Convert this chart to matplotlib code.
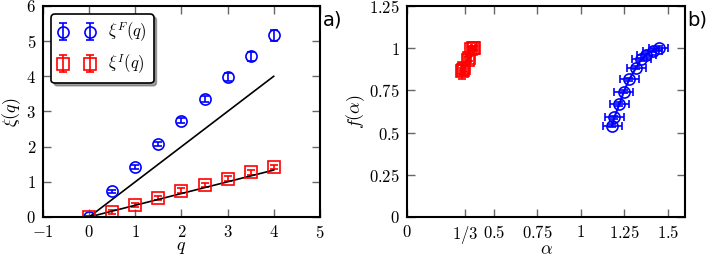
import numpy as np
from matplotlib import pyplot as plt

plt.rcParams['font.family'] = 'serif'
plt.rcParams['font.serif'] = ['cmr10', 'DejaVu Serif']
plt.rcParams['mathtext.fontset'] = 'cm'
plt.rcParams['axes.formatter.use_mathtext'] = True

# panel a) data
q = [0, 0.5, 1, 1.5, 2, 2.5, 3, 3.5, 4]
xiF = [0.0, 0.73, 1.42, 2.08, 2.73, 3.35, 3.97, 4.57, 5.16]
xiF_err = [0.02, 0.04, 0.05, 0.05, 0.07, 0.09, 0.11, 0.13, 0.15]
xiI = [0.0, 0.15, 0.35, 0.55, 0.74, 0.91, 1.09, 1.27, 1.42]
xiI_err = [0.02, 0.06, 0.06, 0.06, 0.07, 0.07, 0.07, 0.07, 0.07]
line_q = [0, 4]

# panel b) data
alphaF = [1.447, 1.414, 1.376, 1.347, 1.318, 1.279, 1.247, 1.222, 1.193, 1.180]
fF = [1.0, 0.985, 0.96, 0.934, 0.884, 0.816, 0.742, 0.669, 0.591, 0.54]
alphaF_err = 0.055
fF_err = 0.01
alphaI = [0.385, 0.378, 0.37, 0.355, 0.348, 0.33, 0.322, 0.318]
fI = [1.0, 1.0, 0.995, 0.94, 0.93, 0.88, 0.87, 0.865]
alphaI_err = 0.012
fI_err = [0.01, 0.01, 0.01, 0.015, 0.015, 0.02, 0.03, 0.045]

alpha_ticks = [0, 1/3, 0.5, 0.75, 1, 1.25, 1.5]
alpha_labels = ['$0$', '$1/3$', '$0.5$', '$0.75$', '$1$', '$1.25$', '$1.5$']
f_ticks = [0, 0.25, 0.5, 0.75, 1, 1.25]
f_labels = ['$0$', '$0.25$', '$0.5$', '$0.75$', '$1$', '$1.25$']

fig = plt.figure(figsize=(7.06, 2.58), dpi=100)
ax1 = fig.add_axes([0.061, 0.159, 0.392, 0.818])
ax2 = fig.add_axes([0.5765, 0.159, 0.394, 0.818])

for ax in (ax1, ax2):
    ax.tick_params(direction='in', top=True, right=True, length=6, width=1,
                   color='0.4', labelsize=12, pad=5)
    for s in ax.spines.values():
        s.set_linewidth(1.5)

ax1.errorbar(q, xiF, yerr=xiF_err, fmt='o', mfc='none', mec='b', color='b',
             ms=8, mew=1.2, capsize=3, elinewidth=1.2, label=r'$\xi^F(q)$')
ax1.errorbar(q, xiI, yerr=xiI_err, fmt='s', mfc='none', mec='r', color='r',
             ms=8, mew=1.2, capsize=3, elinewidth=1.2, label=r'$\xi^I(q)$')
ax1.plot(line_q, [v for v in line_q], 'k-', lw=1.2)
ax1.plot(line_q, [v / 3 for v in line_q], 'k-', lw=1.2)
ax1.set_xlim(-1, 5)
ax1.set_ylim(0, 6)
ax1.set_xticks(range(-1, 6))
ax1.set_yticks(range(0, 7))
ax1.set_xlabel('$q$', fontsize=13, labelpad=-1)
ax1.set_ylabel(r'$\xi(q)$', fontsize=13, labelpad=2)
leg = ax1.legend(loc='upper left', numpoints=2, fontsize=12, fancybox=True,
                 shadow=True, framealpha=1, handlelength=2.2,
                 borderaxespad=0.5)
leg.get_frame().set_edgecolor('k')
leg.get_frame().set_linewidth(1.2)
fig.text(0.458, 0.9, 'a)', fontsize=14, family='DejaVu Sans')

ax2.errorbar(alphaF, fF, xerr=alphaF_err, yerr=fF_err, fmt='o-', mfc='none',
             mec='b', color='b', ms=8, mew=1.2, capsize=3, elinewidth=1.2)
ax2.errorbar(alphaI, fI, xerr=alphaI_err, yerr=fI_err, fmt='s-', mfc='none',
             mec='r', color='r', ms=8, mew=1.2, capsize=3, elinewidth=1.2)
ax2.set_xlim(0, 1.6)
ax2.set_ylim(0, 1.25)
ax2.set_xticks(alpha_ticks)
ax2.set_xticklabels(alpha_labels)
ax2.set_yticks(f_ticks)
ax2.set_yticklabels(f_labels)
ax2.set_xlabel(r'$\alpha$', fontsize=13, labelpad=-3)
ax2.set_ylabel(r'$f(\alpha)$', fontsize=13, labelpad=2)
fig.text(0.973, 0.9, 'b)', fontsize=14, family='DejaVu Sans')

fig.savefig('out.png', dpi=100)
